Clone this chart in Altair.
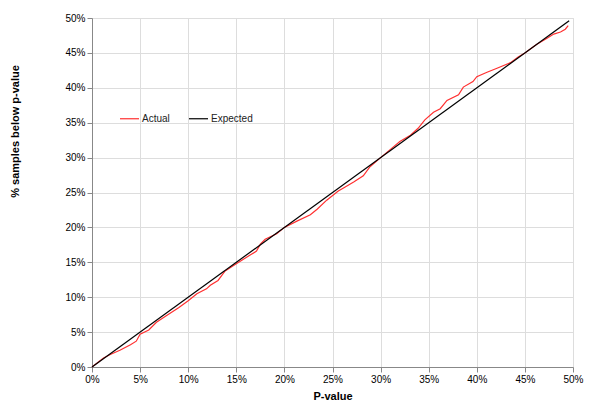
import altair as alt
import pandas as pd

# Observed cumulative share of samples below each p-value (percent)
actual_x = [0, 1.2, 1.9, 2.9, 4.0, 4.6, 5.0, 5.9, 6.7, 7.8, 9.0, 10.0, 10.9, 11.9, 12.3,
            13.1, 13.8, 15.0, 16.4, 17.1, 17.5, 18.0, 19.2, 20.0, 21.3, 22.7, 23.4, 24.4,
            25.6, 26.1, 27.2, 28.2, 28.9, 30.0, 31.3, 32.0, 33.1, 33.9, 34.6, 35.5, 36.2,
            36.9, 38.1, 38.6, 39.6, 40.0, 41.0, 42.1, 43.5, 44.3, 45.0, 46.2, 47.3, 48.0,
            48.7, 49.2, 49.5]
actual_y = [0, 1.3, 1.8, 2.4, 3.2, 3.7, 4.7, 5.3, 6.4, 7.4, 8.5, 9.5, 10.5, 11.2, 11.7,
            12.4, 13.7, 14.8, 16.0, 16.6, 17.6, 18.3, 19.1, 20.0, 20.9, 21.8, 22.6, 23.9,
            25.2, 25.6, 26.5, 27.4, 28.7, 30.0, 31.5, 32.3, 33.2, 34.2, 35.4, 36.5, 37.0,
            38.2, 39.0, 40.1, 40.9, 41.6, 42.2, 42.8, 43.6, 44.4, 45.0, 46.2, 47.1, 47.7,
            48.0, 48.4, 48.9]
# Expected (uniform) line
expected_x = [0, 49.6]
expected_y = [0, 49.6]

tick_values = [0, 0.05, 0.10, 0.15, 0.20, 0.25, 0.30, 0.35, 0.40, 0.45, 0.50]

rows = []
for i, (a, b) in enumerate(zip(actual_x, actual_y)):
    rows.append({"series": "Actual", "x": a / 100, "y": b / 100, "i": i})
for i, (a, b) in enumerate(zip(expected_x, expected_y)):
    rows.append({"series": "Expected", "x": a / 100, "y": b / 100, "i": i})
df = pd.DataFrame(rows)

FONT = "Liberation Sans"
W, H = 481, 349

chart = alt.Chart(df).mark_line(strokeWidth=1.2).encode(
    x=alt.X("x:Q", scale=alt.Scale(domain=[0, 0.5], nice=False),
            axis=alt.Axis(values=tick_values, format=".0%", title="P-value",
                          labelFlush=False,
                          titleY=29, titleBaseline="middle", titleAnchor="middle")),
    y=alt.Y("y:Q", scale=alt.Scale(domain=[0, 0.5], nice=False),
            axis=alt.Axis(values=tick_values, format=".0%",
                          labelFlush=False,
                          title="% samples below p-value",
                          titleX=-77, titleY=113, titleAngle=270,
                          titleBaseline="middle", titleAlign="center")),
    color=alt.Color("series:N",
                    scale=alt.Scale(domain=["Actual", "Expected"],
                                    range=["#ff3030", "#000000"]),
                    legend=alt.Legend(title=None, orient="none", direction="horizontal",
                                      legendX=27, legendY=90, padding=0,
                                      symbolType="stroke", symbolSize=361,
                                      symbolStrokeWidth=1.2, labelOffset=2,
                                      columnPadding=16, labelFont=FONT,
                                      labelFontSize=10, labelColor="#222")),
    order="i:Q",
).properties(
    width=W, height=H,
    autosize=alt.AutoSizeParams(type="none"),
    padding={"left": 84, "top": 10, "right": 19, "bottom": 40},
).configure_view(
    stroke=None
).configure_axis(
    labelFont=FONT, labelFontSize=10, labelColor="#333",
    titleFont=FONT, titleFontSize=11, titleFontWeight="bold", titleColor="#111",
    domainColor="#bbbbbb", domainWidth=1.2,
    gridColor="#dddddd", gridWidth=1,
    tickColor="#bbbbbb", tickSize=3, labelPadding=5,
).configure(background="white")

chart.save("out.html", embed_options={"renderer": "svg", "actions": False})
